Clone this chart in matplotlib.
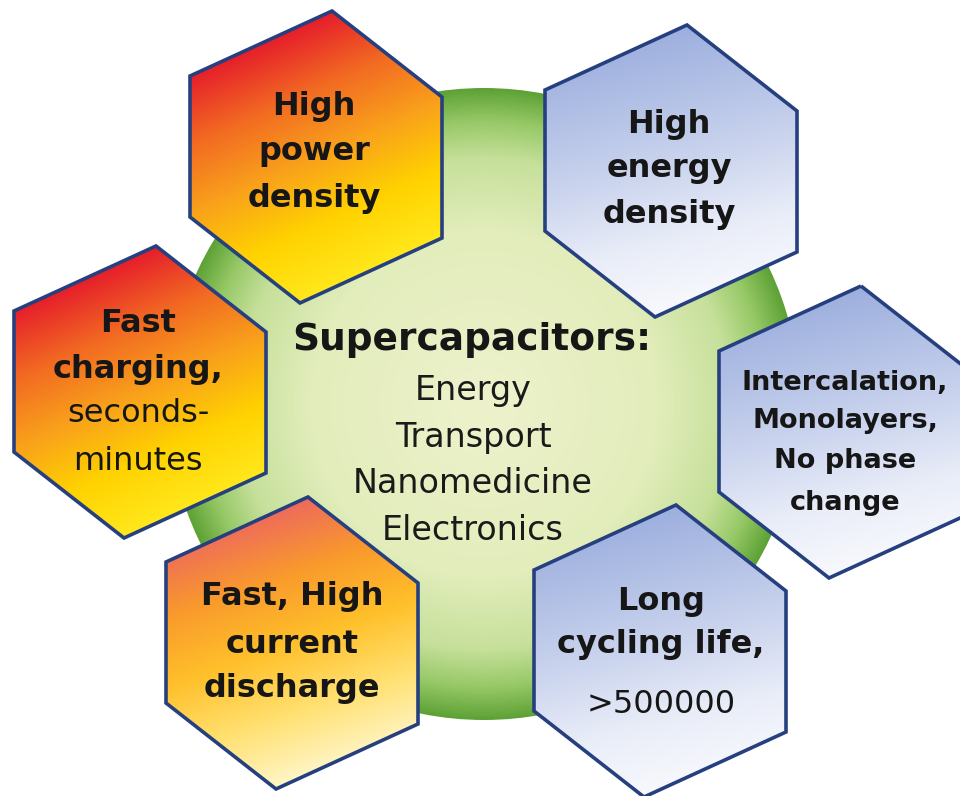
import numpy as np
import matplotlib
matplotlib.use("Agg")
import matplotlib.pyplot as plt
from matplotlib.patches import Polygon, Circle
from matplotlib.colors import LinearSegmentedColormap

# ---------------- content ----------------
center_title = "Supercapacitors:"
center_items = ["Energy", "Transport", "Nanomedicine", "Electronics"]

feature_labels = [
    ["High", "power", "density"],
    ["High", "energy", "density"],
    ["Fast", "charging,", "seconds-", "minutes"],
    ["Intercalation,", "Monolayers,", "No phase", "change"],
    ["Fast, High", "current", "discharge"],
    ["Long", "cycling life,", ">500000"],
]
feature_bold_lines = [3, 3, 2, 4, 3, 2]
feature_theme = ["warm", "cool", "warm", "cool", "warm2", "cool"]

# ---------------- layout (pixels) ----------------
W, H = 960, 796
hex_cx = [316, 671, 140, 845, 292, 660]
hex_cy = [157, 171, 392, 432, 643, 651]
hex_dx = [16, 126, 126, -16, -126, -126]
hex_dy = [-146, -60, 81, 146, 60, -81]
line_baselines = [
    [115, 160, 207],
    [133, 177, 223],
    [332, 378, 422, 470],
    [390, 428, 468, 510],
    [605, 653, 697],
    [610, 653, 713],
]
text_cx = [314, 669, 138, 845, 292, 661]
text_size = [23, 23, 23, 19.5, 23, 23]

circle_c = (484, 404)
circle_r = 316
title_base = 350
items_base = [400, 447, 493, 540]

grad = {
    "warm": (np.array([0.45, 1.0]), ["#e61e2b", "#f26a22", "#f9a11b", "#ffd200", "#ffe81c"]),
    "warm2": (np.array([0.35, 1.0]), ["#ee6a5c", "#f99a2c", "#ffc02a", "#ffe070", "#fff6c8"]),
    "cool": (np.array([0.25, 1.0]), ["#9dafdf", "#b4c2e6", "#cdd6ef", "#e9edf8", "#f8f9fd"]),
}

fig = plt.figure(figsize=(W / 100, H / 100), dpi=100)
ax = fig.add_axes([0, 0, 1, 1])
ax.set_xlim(0, W)
ax.set_ylim(H, 0)
ax.axis("off")

# ---------------- green circle with radial gradient ----------------
cx, cy = circle_c
x0, x1, y0, y1 = cx - circle_r, cx + circle_r, cy - circle_r, cy + circle_r
xx, yy = np.meshgrid(np.linspace(x0, x1, 600), np.linspace(y0, y1, 600))
rr = np.hypot(xx - cx, yy - cy) / circle_r
green = LinearSegmentedColormap.from_list(
    "g", [(0, "#eef2cc"), (0.55, "#e2edbb"), (0.78, "#c6e09a"), (0.9, "#96c866"), (1.0, "#5ea236")])
circ = Circle(circle_c, circle_r, facecolor="none", edgecolor="none")
ax.add_patch(circ)
im = ax.imshow(np.clip(rr, 0, 1), extent=(x0, x1, y1, y0), origin="upper", cmap=green,
               vmin=0, vmax=1, interpolation="bilinear", zorder=1)
im.set_clip_path(circ)

# ---------------- hexagons ----------------
for i, labels in enumerate(feature_labels):
    hx, hy = hex_cx[i], hex_cy[i]
    verts = np.column_stack([hx + np.array(hex_dx), hy + np.array(hex_dy)])
    d, cols = grad[feature_theme[i]]
    d = d / np.linalg.norm(d)
    bx0, by0 = verts.min(axis=0) - 2
    bx1, by1 = verts.max(axis=0) + 2
    gx, gy = np.meshgrid(np.linspace(bx0, bx1, 300), np.linspace(by0, by1, 300))
    proj = (gx - hx) * d[0] + (gy - hy) * d[1]
    pv = (verts[:, 0] - hx) * d[0] + (verts[:, 1] - hy) * d[1]
    t = (proj - pv.min()) / (pv.max() - pv.min())
    cmap = LinearSegmentedColormap.from_list("h%d" % i, cols)
    poly = Polygon(verts, closed=True, facecolor="none", edgecolor="none", zorder=2 + i)
    ax.add_patch(poly)
    him = ax.imshow(np.clip(t, 0, 1), extent=(bx0, bx1, by1, by0), origin="upper", cmap=cmap,
                    vmin=0, vmax=1, interpolation="bilinear", zorder=2 + i)
    him.set_clip_path(poly)
    ax.add_patch(Polygon(verts, closed=True, facecolor="none", edgecolor="#26407f",
                         linewidth=2.6, joinstyle="miter", zorder=2 + i + 0.5))
    for j, line in enumerate(labels):
        ax.text(text_cx[i], line_baselines[i][j], line, ha="center", va="baseline",
                fontsize=text_size[i], color="#161616", family="DejaVu Sans",
                fontweight="bold" if j < feature_bold_lines[i] else "normal",
                zorder=20)

# ---------------- centre text ----------------
ax.text(472, title_base, center_title, ha="center", va="baseline", fontsize=27,
        fontweight="bold", color="#161616", family="DejaVu Sans", zorder=20)
for item, yb in zip(center_items, items_base):
    ax.text(473, yb, item, ha="center", va="baseline", fontsize=24,
            color="#1a1a1a", family="DejaVu Sans", zorder=20)

fig.savefig("out.png", dpi=100, facecolor="white")
